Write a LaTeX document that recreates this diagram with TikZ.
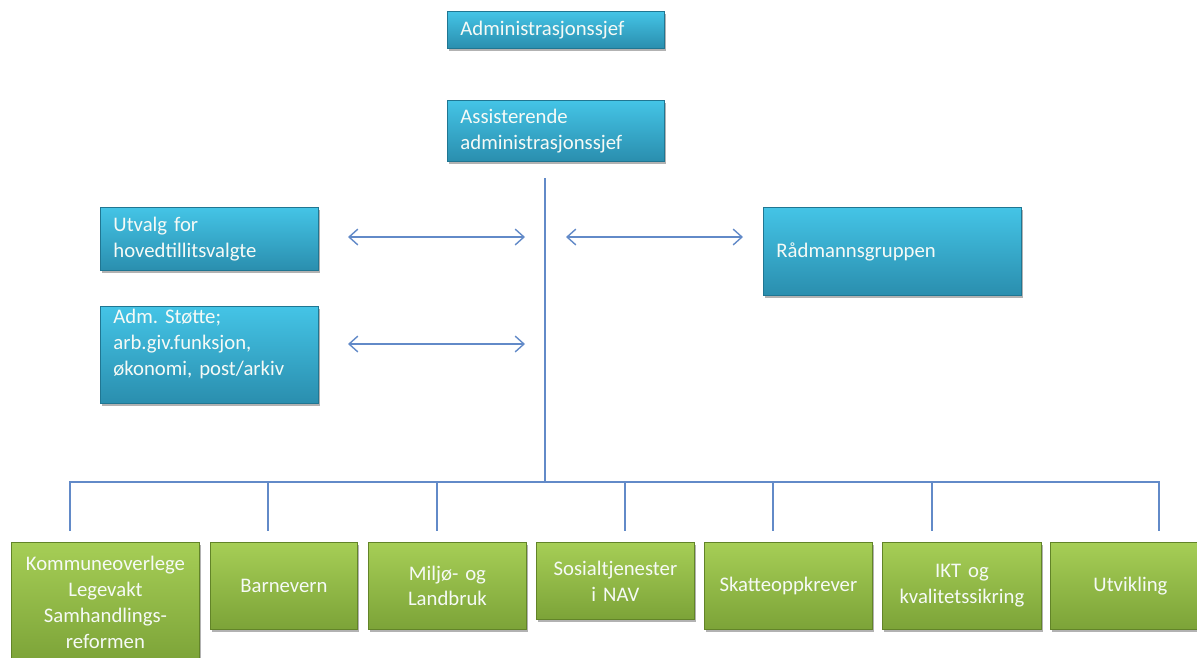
\documentclass[tikz,border=0pt]{standalone}
\usepackage{fontspec}
\setmainfont{Carlito}
\frenchspacing
\usetikzlibrary{arrows.meta,shadows}
\definecolor{bluetop}{RGB}{68,196,230}
\definecolor{bluebot}{RGB}{42,142,174}
\definecolor{blueedge}{RGB}{32,118,146}
\definecolor{greentop}{RGB}{166,206,86}
\definecolor{greenbot}{RGB}{124,163,56}
\definecolor{greenedge}{RGB}{98,132,40}
\definecolor{linkcol}{RGB}{98,138,200}
\definecolor{boxtext}{RGB}{246,250,246}
\def\pxu{0.02cm}
\tikzset{
  basebox/.style={anchor=north west, text=boxtext, font=\fontsize{11.8}{14.7}\selectfont,
    drop shadow={shadow xshift=1pt, shadow yshift=-1.3pt, opacity=0.3, fill=black},
    line width=0.5pt},
  bluebox/.style={basebox, shading=axis, top color=bluetop, bottom color=bluebot, draw=blueedge,
    align=left, inner xsep=13*\pxu, inner ysep=0pt},
  greenbox/.style={basebox, shading=axis, top color=greentop, bottom color=greenbot, draw=greenedge,
    align=center, inner xsep=4*\pxu, inner ysep=0pt},
  biarrow/.style={draw=linkcol, line width=0.8pt, {Straight Barb[length=5pt,width=9pt]}-{Straight Barb[length=5pt,width=9pt]}},
  link/.style={draw=linkcol, line width=0.8pt}
}
\begin{document}
\begin{tikzpicture}[x=0.02cm,y=-0.02cm]
\useasboundingbox (0,0) rectangle (1197,657);
% top boxes
\node[bluebox, text width=191*\pxu, minimum height=37*\pxu] (adm) at (447,11) {Administrasjonssjef};
\node[bluebox, text width=191*\pxu, minimum height=61*\pxu] (ass) at (447,100) {Assisterende\\administrasjonssjef};
\node[bluebox, text width=192*\pxu, minimum height=63*\pxu] (utv) at (100,207) {Utvalg for\\hovedtillitsvalgte};
\node[bluebox, text width=192*\pxu, minimum height=97*\pxu] (stotte) at (100,306) {Adm. Støtte;\\arb.giv.funksjon,\\økonomi, post/arkiv\\\mbox{}};
\node[bluebox, text width=232*\pxu, minimum height=88*\pxu] (rad) at (763,207) {Rådmannsgruppen};
% bottom boxes
\node[greenbox, text width=180*\pxu, minimum height=120*\pxu] (kom) at (11,542) {Kommuneoverlege\\Legevakt\\Samhandlings-\\reformen};
\node[greenbox, text width=139*\pxu, minimum height=87*\pxu] (barn) at (210,542) {Barnevern};
\node[greenbox, text width=150*\pxu, minimum height=87*\pxu] (milj) at (368,542) {Miljø- og\\Landbruk};
\node[greenbox, text width=150*\pxu, minimum height=77*\pxu] (sos) at (536,542) {Sosialtjenester\\i NAV};
\node[greenbox, text width=160*\pxu, minimum height=87*\pxu] (skatt) at (704,542) {Skatteoppkrever};
\node[greenbox, text width=151*\pxu, minimum height=87*\pxu] (ikt) at (882,542) {IKT og\\kvalitetssikring};
\node[greenbox, text width=152*\pxu, minimum height=87*\pxu] (utvk) at (1050,542) {Utvikling};
% connector points
\coordinate (trunktop) at (545,178);
\coordinate (bus) at (545,482);
\coordinate (d1) at (70,531);
\coordinate (d2) at (268,531);
\coordinate (d3) at (437,531);
\coordinate (d4) at (625,531);
\coordinate (d5) at (773,531);
\coordinate (d6) at (932,531);
\coordinate (d7) at (1159,531);
\coordinate (a1l) at (348,237);
\coordinate (a1r) at (525,237);
\coordinate (a2l) at (348,344);
\coordinate (a2r) at (525,344);
\coordinate (a3l) at (566,237);
\coordinate (a3r) at (743,237);
% trunk and bus
\draw[link] (trunktop) -- (bus);
\draw[link] (d1) |- (bus) -| (d7);
\foreach \d in {d2,d3,d4,d5,d6} \draw[link] (bus -| \d) -- (\d);
% arrows
\draw[biarrow] (a1l) -- (a1r);
\draw[biarrow] (a2l) -- (a2r);
\draw[biarrow] (a3l) -- (a3r);
\end{tikzpicture}
\end{document}
